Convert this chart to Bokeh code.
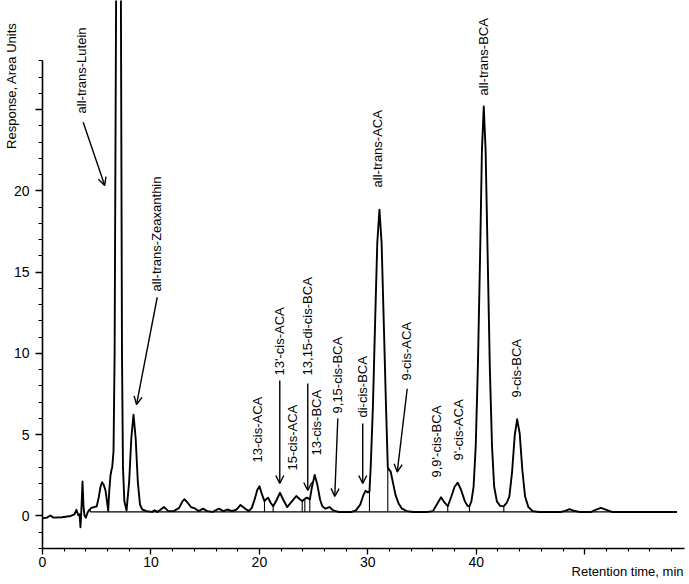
import numpy as np
from bokeh.plotting import figure
from bokeh.models import Range1d, FixedTicker, LabelSet, Arrow, OpenHead, ColumnDataSource, Title
from bokeh.embed import file_html
from bokeh.resources import INLINE
from bokeh.core.properties import value

# ---- chromatogram trace (retention time [min], response) ----
trace_time = [0.0, 0.4, 0.74, 1.0, 1.8, 2.6, 2.95, 3.13, 3.3, 3.42, 3.5, 3.6, 3.69, 3.78, 3.87, 4.0,
              4.15, 4.27, 4.5, 4.73, 5.0, 5.19, 5.35, 5.5, 5.65, 5.81, 6.06, 6.15, 6.27, 6.35, 6.43,
              6.55, 6.65, 6.8, 7.01, 7.22, 7.33, 7.42, 7.55, 7.75, 7.99, 8.19, 8.39, 8.59, 8.79, 8.99,
              9.2, 9.6, 10.1, 10.35, 10.6, 11.2, 11.6, 12.1, 12.6, 12.9, 13.1, 13.4, 13.7, 14.1, 14.4,
              14.8, 15.2, 15.7, 16.26, 16.7, 17.03, 17.5, 17.9, 18.26, 18.7, 19.02, 19.3, 19.6, 19.8,
              20.01, 20.2, 20.47, 20.8, 21.05, 21.27, 21.6, 21.9, 22.2, 22.56, 23.0, 23.4, 23.7, 23.95,
              24.19, 24.4, 24.65, 24.85, 25.1, 25.35, 25.6, 25.8, 26.1, 26.45, 26.8, 27.3, 27.9, 28.5,
              28.9, 29.3, 29.6, 29.8, 30.0, 30.15, 30.27, 30.47, 30.67, 30.87, 31.07, 31.27, 31.47,
              31.67, 31.84, 32.0, 32.1, 32.3, 32.55, 32.85, 33.15, 33.6, 34.2, 35.5, 36.0, 36.4, 36.75,
              37.05, 37.37, 37.7, 38.0, 38.29, 38.6, 38.95, 39.2, 39.37, 39.55, 39.75, 39.95, 40.15,
              40.35, 40.52, 40.69, 40.86, 41.05, 41.25, 41.45, 41.65, 41.9, 42.2, 42.54, 42.8, 43.05,
              43.3, 43.55, 43.77, 44.0, 44.25, 44.5, 44.8, 45.2, 45.8, 47.8, 48.2, 48.6, 49.0, 49.5,
              50.6, 51.0, 51.5, 52.0, 52.5, 58.5]
trace_response = [-0.15, -0.1, 0.03, -0.1, -0.08, 0.0, 0.1, 0.38, 0.05, 0.1, -0.69, 0.6, 2.12, 0.6, 0.03, -0.1,
                  0.2, 0.34, 0.5, 0.54, 0.6, 1.16, 1.8, 2.08, 1.9, 1.57, 0.34, 1.5, 2.5, 2.8, 3.0,
                  4.0, 10.0, 34.0, 60.0, 34.0, 10.0, 3.0, 0.9, 0.34, 2.1, 4.8, 6.23, 4.8, 2.1, 0.7,
                  0.4, 0.3, 0.25, 0.35, 0.25, 0.55, 0.3, 0.3, 0.5, 0.9, 1.03, 0.8, 0.55, 0.45, 0.3,
                  0.45, 0.3, 0.25, 0.45, 0.3, 0.4, 0.3, 0.4, 0.68, 0.45, 0.3, 0.5, 1.1, 1.6,
                  1.83, 1.4, 0.92, 1.13, 0.8, 0.6, 1.0, 1.43, 1.0, 0.55, 0.9, 1.23, 1.05, 0.92,
                  1.05, 1.13, 1.02, 1.8, 2.52, 1.9, 1.0, 0.6, 0.45, 0.55, 0.35, 0.25, 0.25, 0.25,
                  0.35, 0.7, 1.3, 1.55, 1.45, 1.5, 3.1, 6.8, 11.9, 16.8, 18.85, 16.8, 11.9,
                  6.9, 3.0, 2.8, 2.75, 2.1, 1.3, 0.75, 0.45, 0.3, 0.25, 0.25, 0.3, 0.75, 1.15,
                  0.85, 0.6, 1.2, 1.8, 2.05, 1.6, 0.9, 0.62, 0.6, 0.9, 1.8, 4.3, 9.3,
                  16.0, 22.5, 25.2, 22.5, 16.0, 9.1, 4.3, 1.8, 0.9, 0.62, 0.6, 0.8, 1.2,
                  2.7, 5.0, 5.95, 5.1, 2.8, 1.2, 0.55, 0.3, 0.25, 0.25, 0.32, 0.42, 0.32, 0.25,
                  0.25, 0.38, 0.5, 0.38, 0.25, 0.25]

# integration baseline and peak drop lines
baseline_level = 0.25
baseline_span = [4.4, 58.5]
drop_times = [4.4, 6.06, 7.75, 20.47, 21.27, 23.95, 24.19, 24.65, 30.15, 31.84, 37.37, 39.37, 42.54]

# peak annotations
peak_names = ["all-trans-Lutein", "all-trans-Zeaxanthin", "13-cis-ACA", "13'-cis-ACA", "15-cis-ACA",
              "13,15-di-cis-BCA", "13-cis-BCA", "9,15-cis-BCA", "di-cis-BCA", "all-trans-ACA",
              "9-cis-ACA", "9,9'-cis-BCA", "9'-cis-ACA", "all-trans-BCA", "9-cis-BCA"]
name_time = [3.60, 10.51, 19.80, 21.88, 23.02, 24.41, 25.27, 27.23, 29.53, 30.86, 33.54, 36.33, 38.39, 40.69, 43.71]
name_level = [24.77, 13.82, 3.29, 8.65, 2.80, 8.65, 3.72, 6.31, 6.06, 20.22, 8.34, 2.37, 3.42, 25.88, 7.29]

arrow_t0 = [3.75, 10.58, 21.88, 24.46, 27.23, 29.53, 33.63]
arrow_y0 = [24.23, 13.46, 8.34, 8.15, 6.00, 5.69, 7.83]
arrow_t1 = [5.74, 8.67, 21.88, 24.46, 26.95, 29.53, 32.71]
arrow_y1 = [20.34, 6.86, 2.00, 1.57, 1.20, 2.00, 2.70]

x_title = "Retention time, min"
y_title = "Response, Area Units"

x_ticks = [0, 10, 20, 30, 40, 50]
x_minor = list(range(0, 60, 2))
y_ticks = [0, 5, 10, 15, 20, 25]
y_minor = list(range(-2, 29))

FONT = "Liberation Sans"

p = figure(width=689, height=584, x_range=Range1d(0, 59.2), y_range=Range1d(-2, 31.72),
           output_backend="svg", toolbar_location=None,
           min_border_left=42, min_border_right=5, min_border_top=0, min_border_bottom=36)
p.grid.visible = False
p.outline_line_color = None
p.background_fill_color = "white"

for ax in (p.xaxis[0], p.yaxis[0]):
    ax.axis_line_color = "black"
    ax.axis_line_width = 1.6
    ax.major_tick_line_color = "black"
    ax.minor_tick_line_color = "black"
    ax.major_tick_line_width = 1.3
    ax.minor_tick_line_width = 1.1
    ax.major_tick_in = 0
    ax.minor_tick_in = 0
    ax.major_label_text_font = FONT
    ax.major_label_text_font_size = "14px"
    ax.major_label_text_color = "black"

p.xaxis.ticker = FixedTicker(ticks=x_ticks, minor_ticks=x_minor)
p.xaxis.major_label_overrides = {50: ""}
p.xaxis.major_tick_out = 6
p.xaxis.minor_tick_out = 3
p.xaxis.major_label_standoff = 2

p.yaxis.ticker = FixedTicker(ticks=y_ticks, minor_ticks=y_minor)
p.yaxis.major_label_overrides = {25: ""}
p.yaxis.bounds = (-2, 28)
p.yaxis.major_tick_out = 7
p.yaxis.minor_tick_out = 4
p.yaxis.major_label_standoff = 6

# axis titles as side-panel titles (top-aligned / right-aligned like the original)
p.add_layout(Title(text=y_title, align="right", vertical_align="bottom", offset=22, standoff=-16,
                   text_font=FONT, text_font_size="13px", text_font_style="normal",
                   text_color="black"), "left")
p.add_layout(Title(text=x_title, align="right", vertical_align="top", offset=1, standoff=-12,
                   text_font=FONT, text_font_size="13px", text_font_style="normal",
                   text_color="black"), "below")

# baseline and drop lines
p.line(baseline_span, [baseline_level, baseline_level], line_color="black", line_width=1.3)
drop_tops = np.interp(drop_times, trace_time, trace_response)
p.segment(x0=drop_times, y0=[baseline_level] * len(drop_times), x1=drop_times, y1=drop_tops,
          line_color="black", line_width=1.1)

# chromatogram
p.line(trace_time, trace_response, line_color="black", line_width=1.9, line_join="round")

# arrows
for a, b, c, d in zip(arrow_t0, arrow_y0, arrow_t1, arrow_y1):
    p.add_layout(Arrow(end=OpenHead(size=8, line_width=1.4, line_color="black"),
                       x_start=a, y_start=b, x_end=c, y_end=d,
                       line_color="black", line_width=1.4))

# peak labels
src = ColumnDataSource(dict(t=name_time, y=name_level, name=peak_names))
p.add_layout(LabelSet(x="t", y="y", text="name", source=src, angle=np.pi / 2,
                      text_align="left", text_baseline="middle",
                      text_font=value(FONT), text_font_size="13px", text_color="black"))

open("out.html", "w").write(file_html(p, INLINE))
